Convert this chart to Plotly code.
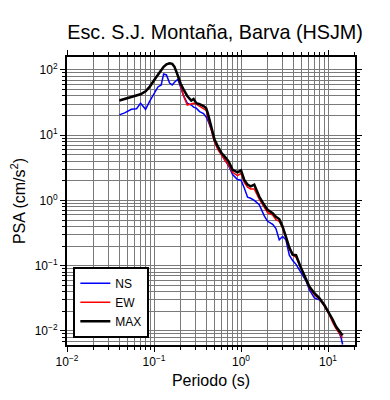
import plotly.graph_objects as go

periods = [0.040, 0.046, 0.055, 0.063, 0.070, 0.080, 0.089, 0.102, 0.111, 0.121,
           0.129, 0.139, 0.151, 0.162, 0.172, 0.188, 0.202, 0.219, 0.241, 0.268,
           0.285, 0.306, 0.334, 0.371, 0.398, 0.415, 0.454, 0.497, 0.543, 0.60,
           0.65, 0.72, 0.80, 0.91, 1.0, 1.09, 1.19, 1.29, 1.42, 1.62,
           1.85, 2.02, 2.31, 2.52, 2.75, 3.0, 3.28, 3.59, 3.92, 4.29,
           4.9, 5.6, 6.1, 6.97, 7.95, 9.07, 10.3, 11.3, 12.3, 14.1, 14.7]

psa_max = [34, 36, 38, 40, 42.5, 47, 55, 72, 85, 100,
           112, 122, 127, 124, 112, 82, 62, 50, 40, 34,
           36, 31, 30, 28, 26, 21.8, 13.5, 8.5, 6.7, 5.3,
           4.7, 3.96, 2.95, 2.7, 2.9, 2.07, 1.75, 1.65, 1.75, 1.15,
           0.85, 0.72, 0.64, 0.56, 0.52, 0.40, 0.28, 0.19, 0.148, 0.145,
           0.092, 0.063, 0.048, 0.038, 0.032, 0.025, 0.019, 0.015, 0.0118, 0.0093, 0.0085]

psa_ew = [34, 36, 38, 40, 42.5, 47, 55, 72, 85, 100,
          112, 122, 127, 124, 112, 80, 58, 40, 29, 30,
          31, 30, 28, 26, 24, 19, 12.5, 7.8, 6.0, 4.8,
          4.2, 3.5, 2.7, 2.4, 2.6, 1.9, 1.6, 1.5, 1.5, 1.05,
          0.80, 0.65, 0.60, 0.51, 0.48, 0.38, 0.27, 0.18, 0.145, 0.135,
          0.090, 0.060, 0.046, 0.036, 0.031, 0.024, 0.018, 0.0135, 0.011, 0.0085, 0.0078]

psa_ns = [20.5, 22, 25, 25.5, 31, 25, 33, 45, 55, 59,
          87, 84, 63, 59, 65, 72, 55, 40, 31, 29,
          27, 26, 23, 21.5, 19, 17, 12.5, 8.0, 6.2, 4.9,
          4.2, 3.4, 2.5, 2.1, 2.05, 1.55, 1.12, 1.08, 1.0, 0.86,
          0.58, 0.48, 0.43, 0.37, 0.25, 0.28, 0.25, 0.145, 0.12, 0.105,
          0.080, 0.058, 0.043, 0.032, 0.030, 0.025, 0.0185, 0.015, 0.0118, 0.0080, 0.0062]

x_tickvals = [0.01, 0.1, 1, 10]
x_ticktext = ["10<sup>\u22122</sup>", "10<sup>\u22121</sup>", "10<sup>0</sup>", "10<sup>1</sup>"]
y_tickvals = [0.01, 0.1, 1, 10, 100]
y_ticktext = ["10<sup>\u22122</sup>", "10<sup>\u22121</sup>", "10<sup>0</sup>",
              "10<sup>1</sup>", "10<sup>2</sup>"]

def minor_vals(lo, hi):
    out = []
    for e in range(lo, hi + 1):
        for d in range(2, 10):
            out.append(d * 10 ** e)
    return out

fig = go.Figure()
fig.add_trace(go.Scatter(x=periods, y=psa_ns, mode="lines", name="NS",
                         line=dict(color="#0000ff", width=1.5)))
fig.add_trace(go.Scatter(x=periods, y=psa_ew, mode="lines", name="EW",
                         line=dict(color="#ff0000", width=1.5)))
fig.add_trace(go.Scatter(x=periods, y=psa_max, mode="lines", name="MAX",
                         line=dict(color="#000000", width=2.5)))

font = "Liberation Sans, Arial, sans-serif"
grid_color = "#7a7a7a"
axis_common = dict(
    type="log", showline=True, linecolor="black", linewidth=2, mirror="ticks",
    ticks="outside", ticklen=5, tickwidth=1, tickcolor="black",
    showgrid=True, gridcolor=grid_color, gridwidth=1, zeroline=False,
    automargin=False,
    tickfont=dict(family=font, size=12, color="black"),
)

fig.update_xaxes(**axis_common, range=[-2, 1.31], tickvals=x_tickvals, ticktext=x_ticktext,
                 minor=dict(tickvals=minor_vals(-2, 1), showgrid=True, gridcolor=grid_color,
                            gridwidth=1, ticks="outside", ticklen=3, tickcolor="black"),
                 title=dict(text="Periodo (s)", font=dict(family=font, size=16, color="black"),
                            standoff=6))
fig.update_yaxes(**axis_common, range=[-2.215, 2.199], tickvals=y_tickvals, ticktext=y_ticktext,
                 minor=dict(tickvals=minor_vals(-3, 2), showgrid=True, gridcolor=grid_color,
                            gridwidth=1, ticks="outside", ticklen=3, tickcolor="black"),
                 title=dict(text="PSA (cm/s<sup>2</sup>)", font=dict(family=font, size=16, color="black"),
                            standoff=16))

fig.update_layout(
    width=390, height=400,
    margin=dict(l=59, r=43, t=49, b=63, autoexpand=False),
    paper_bgcolor="white", plot_bgcolor="white",
    title=dict(text="Esc. S.J. Montaña, Barva (HSJM)", x=0.531, xanchor="center",
               y=0.923, yanchor="bottom",
               font=dict(family=font, size=19.8, color="black")),
    showlegend=True,
    legend=dict(x=0.022, y=0.272, xanchor="left", yanchor="top",
                bgcolor="white", bordercolor="black", borderwidth=2,
                font=dict(family=font, size=12, color="black"),
                tracegroupgap=0),
)

fig.write_html("out.html")
